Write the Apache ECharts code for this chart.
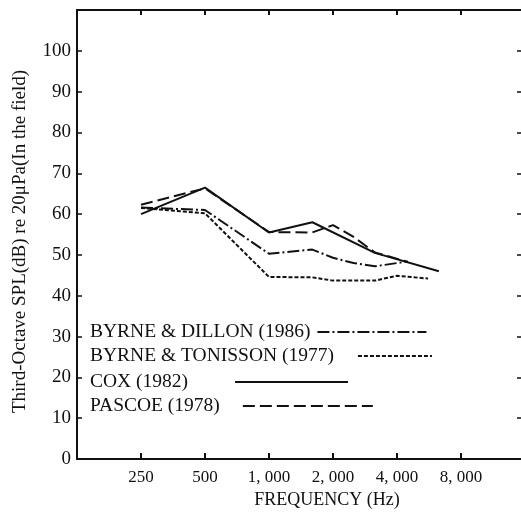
<!DOCTYPE html>
<html>
<head>
<meta charset="utf-8">
<script src="https://cdn.jsdelivr.net/npm/echarts@6/dist/echarts.min.js"></script>
<style>html,body{margin:0;padding:0;background:#fff;}#c{width:521px;height:515px;}</style>
</head>
<body>
<div id="c"></div>
<script>
// ---- data ----
const tickFreqs = [250, 500, 1000, 2000, 4000, 8000];
const tickLabels = ['250', '500', '1, 000', '2, 000', '4, 000', '8, 000'];

const dillonName = 'BYRNE & DILLON (1986)';
const dillonFreq = [250, 500, 1000, 1600, 2000, 2500, 3150, 4500];
const dillonVal  = [61.6, 61, 50.3, 51.3, 49.3, 48, 47.2, 48.4];

const tonissonName = 'BYRNE & TONISSON (1977)';
const tonissonFreq = [250, 500, 1000, 1600, 2000, 3150, 4000, 5600];
const tonissonVal  = [61.5, 60.2, 44.6, 44.5, 43.7, 43.7, 44.9, 44.2];

const coxName = 'COX (1982)';
const coxFreq = [250, 500, 1000, 1600, 3150, 6300];
const coxVal  = [60, 66.5, 55.5, 58, 50.5, 46];

const pascoeName = 'PASCOE (1978)';
const pascoeFreq = [250, 500, 1000, 1600, 2000, 2500, 3150, 4500];
const pascoeVal  = [62.3, 66.3, 55.6, 55.5, 57.3, 54.4, 50.6, 48.3];

// ---- chart ----
const F0 = 125; // left edge of the frequency axis (Hz)
const toX = f => Math.log2(f / F0);
const pairs = (fs, vs) => fs.map((f, i) => [toX(f), vs[i]]);
const FONT = 'Liberation Serif';
const INK = '#111';
const xTickPos = tickFreqs.map(toX);

function xLabel(v) {
  for (let i = 0; i < tickFreqs.length; i++) {
    if (Math.abs(toX(tickFreqs[i]) - v) < 1e-6) return tickLabels[i];
  }
  return '';
}

function mkSeries(name, fs, vs, type) {
  return {
    name, type: 'line', data: pairs(fs, vs), symbol: 'none', silent: true,
    lineStyle: { color: INK, width: 2, type: type },
    itemStyle: { color: INK }
  };
}

function mkLegend(name, top, padR, width) {
  return {
    data: [name], left: 90, top: top, padding: 0, align: 'right',
    itemWidth: width, itemHeight: 18, selectedMode: false,
    itemStyle: { color: 'rgba(0,0,0,0)', borderWidth: 0, opacity: 0 },
    textStyle: { fontFamily: FONT, fontSize: 19.5, color: INK, padding: [0, padR, 0, 0] }
  };
}

const chart = echarts.init(document.getElementById('c'), null, { renderer: 'canvas' });
chart.setOption({
  animation: false,
  backgroundColor: '#fff',
  grid: { left: 77, right: 0, top: 10, bottom: 56 },
  legend: [
    mkLegend(dillonName, 322, 2, 109),
    mkLegend(tonissonName, 346, 19, 74),
    mkLegend(coxName, 372, 42, 113),
    mkLegend(pascoeName, 396, 18, 130)
  ],
  xAxis: [{
    type: 'value', min: 0, max: toX(15334), interval: 1,
    name: 'FREQUENCY (Hz)', nameLocation: 'middle', nameGap: 32,
    nameTextStyle: { fontFamily: FONT, fontSize: 18, color: INK, padding: [0, 0, 0, 56] },
    axisLine: { show: true, onZero: false, lineStyle: { color: INK, width: 2 } },
    axisTick: { show: true, inside: true, length: 6, customValues: xTickPos, lineStyle: { color: INK, width: 2 } },
    axisLabel: { formatter: xLabel, customValues: xTickPos, fontFamily: FONT, fontSize: 17, color: INK, margin: 10 },
    splitLine: { show: false }
  }, {
    type: 'value', position: 'top', min: 0, max: toX(15334), interval: 1,
    axisLine: { show: true, onZero: false, lineStyle: { color: INK, width: 2 } },
    axisTick: { show: true, inside: true, length: 5, customValues: xTickPos, lineStyle: { color: INK, width: 2 } },
    axisLabel: { show: false }, splitLine: { show: false }
  }],
  yAxis: [{
    type: 'value', min: 0, max: 110, interval: 10,
    name: 'Third-Octave SPL(dB) re 20μPa(In the field)', nameLocation: 'middle', nameGap: 47,
    nameTextStyle: { fontFamily: FONT, fontSize: 19, color: INK, padding: [0, 14, 0, 0] },
    axisLine: { show: true, onZero: false, lineStyle: { color: INK, width: 2 } },
    axisTick: { show: true, inside: true, length: 5, lineStyle: { color: INK, width: 1.5 } },
    axisLabel: { formatter: v => (v > 100 ? '' : String(v)), fontFamily: FONT, fontSize: 19, color: INK, margin: 6 },
    splitLine: { show: false }
  }, {
    type: 'value', position: 'right', min: 0, max: 110, interval: 10,
    axisLine: { show: false, onZero: false },
    axisTick: { show: true, inside: true, length: 4, lineStyle: { color: INK, width: 1.5 } },
    axisLabel: { show: false }, splitLine: { show: false }
  }],
  series: [
    mkSeries(dillonName, dillonFreq, dillonVal, [12, 3, 2, 3]),
    mkSeries(tonissonName, tonissonFreq, tonissonVal, [4, 2]),
    mkSeries(coxName, coxFreq, coxVal, 'solid'),
    mkSeries(pascoeName, pascoeFreq, pascoeVal, [12, 5])
  ]
});
</script>
</body>
</html>
